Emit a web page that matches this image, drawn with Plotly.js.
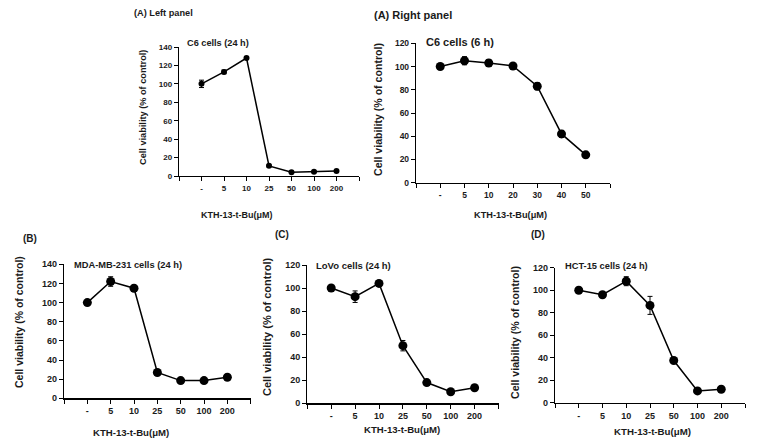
<!DOCTYPE html>
<html>
<head>
<meta charset="utf-8">
<script src="https://cdn.plot.ly/plotly-3.0.1.min.js"></script>
<style>html,body{margin:0;padding:0;background:#fff;}#chart{width:757px;height:446px;}</style>
</head>
<body>
<div id="chart"></div>
<script>
// ---- data ----
const catsLeft = ["-", "5", "10", "25", "50", "100", "200"];
const valsLeft = [100, 113, 128, 11, 4, 4.5, 5.5];
const errLeft = [4, 2, 1.5, 1, 0.8, 0.8, 1];

const catsRight = ["-", "5", "10", "20", "30", "40", "50"];
const valsRight = [100, 105, 103, 100.5, 83, 42, 24];
const errRight = [1.5, 3.5, 3, 1.5, 3, 3, 1];

const catsB = ["-", "5", "10", "25", "50", "100", "200"];
const valsB = [100, 122, 115, 27, 18.5, 18.5, 22];
const errB = [1, 5, 2, 1.5, 1, 1, 1.5];

const catsC = ["-", "5", "10", "25", "50", "100", "200"];
const valsC = [100, 92.5, 104, 50, 18, 10, 13.5];
const errC = [1, 5, 1.5, 4.5, 1, 1, 1];

const catsD = ["-", "5", "10", "25", "50", "100", "200"];
const valsD = [100, 96, 108, 86.5, 37.5, 10.5, 12];
const errD = [1, 1, 4, 8, 1.5, 1, 1];

const panelLabels = ["(A) Left panel", "(A) Right panel", "(B)", "(C)", "(D)"];
const cellTitles = ["C6 cells (24 h)", "C6 cells (6 h)", "MDA-MB-231 cells (24 h)", "LoVo cells (24 h)", "HCT-15 cells (24 h)"];
const yTitle = "Cell viability (% of control)";
const xTitle = "KTH-13-t-Bu(\u03bcM)";

// ---- layout helpers ----
const W = 757, H = 446;
const fx = x => x / W;
const fy = y => 1 - y / H;
const FONT = "Liberation Sans, Arial, sans-serif";
const TXT = "#1a1a1a";

const panels = [
  {cats: catsLeft, vals: valsLeft, err: errLeft, x0: 179, x1: 359, yTop: 47, yBot: 176, ymax: 140,
   ms: 6, tf: 8, lab: [132, 13, 9.2], ttl: [185, 43, 9.2], yt: [143, 108, 9.2], xt: [237, 215, 9]},
  {cats: catsRight, vals: valsRight, err: errRight, x0: 416, x1: 610, yTop: 43.3, yBot: 182.7, ymax: 120,
   ms: 9, tf: 8.5, lab: [372, 15, 11], ttl: [424, 42, 11], yt: [378, 110, 10.6], xt: [510, 215, 9.2]},
  {cats: catsB, vals: valsB, err: errB, x0: 64, x1: 250.7, yTop: 264.3, yBot: 398.3, ymax: 140,
   ms: 9, tf: 9, lab: [21, 238, 10], ttl: [72, 265, 9.3], yt: [19, 322, 10.5], xt: [131, 432, 9.6]},
  {cats: catsC, vals: valsC, err: errC, x0: 307.3, x1: 498.5, yTop: 265, yBot: 403.3, ymax: 120,
   ms: 9, tf: 9, lab: [273, 235, 10], ttl: [314, 265, 9.5], yt: [267, 327, 11], xt: [402, 429, 9.6]},
  {cats: catsD, vals: valsD, err: errD, x0: 555, x1: 745, yTop: 267.7, yBot: 402.7, ymax: 120,
   ms: 9, tf: 9, lab: [529, 235, 10], ttl: [563, 266, 9.3], yt: [515, 333, 10.6], xt: [652, 431, 9.7]}
];

const data = [];
const layout = {
  width: W, height: H,
  margin: {l: 0, r: 0, t: 0, b: 0},
  paper_bgcolor: "#fff", plot_bgcolor: "rgba(0,0,0,0)",
  showlegend: false,
  font: {family: FONT, color: TXT},
  annotations: []
};

panels.forEach((p, i) => {
  const n = i === 0 ? "" : String(i + 1);
  const idx = p.cats.map((c, k) => k);
  data.push({
    type: "scatter", mode: "lines+markers",
    x: idx, y: p.vals,
    xaxis: "x" + n, yaxis: "y" + n,
    line: {color: "#000", width: 1.5},
    marker: {color: "#000", size: p.ms},
    error_y: {type: "data", array: p.err, visible: true, color: "#000", thickness: 1, width: 2.5},
    cliponaxis: false,
    hoverinfo: "skip"
  });
  layout["xaxis" + n] = {
    domain: [fx(p.x0), fx(p.x1)],
    anchor: "y" + n,
    range: [-1, p.cats.length],
    tickmode: "array",
    tickvals: [-1].concat(idx, [p.cats.length]),
    ticktext: [""].concat(p.cats, [""]),
    ticks: "outside", ticklen: 4, tickwidth: 1, tickcolor: "#000",
    showline: true, linecolor: "#000", linewidth: 1.2,
    showgrid: false, zeroline: false, fixedrange: true,
    tickfont: {family: FONT, size: p.tf, color: TXT, weight: "bold"}
  };
  layout["yaxis" + n] = {
    domain: [fy(p.yBot), fy(p.yTop)],
    anchor: "x" + n,
    range: [0, p.ymax],
    tickmode: "linear", tick0: 0, dtick: 20,
    ticks: "outside", ticklen: 4, tickwidth: 1, tickcolor: "#000",
    showline: true, linecolor: "#000", linewidth: 1.2,
    showgrid: false, zeroline: false, fixedrange: true,
    tickfont: {family: FONT, size: p.tf, color: TXT, weight: "bold"}
  };
  const ann = (text, x, y, size, opts) => Object.assign({
    text: text, xref: "paper", yref: "paper", x: fx(x), y: fy(y),
    showarrow: false, xanchor: "left", yanchor: "middle",
    font: {family: FONT, size: size, color: TXT, weight: "bold"}
  }, opts || {});
  layout.annotations.push(ann(panelLabels[i], p.lab[0], p.lab[1], p.lab[2]));
  layout.annotations.push(ann(cellTitles[i], p.ttl[0], p.ttl[1], p.ttl[2]));
  layout.annotations.push(ann(yTitle, p.yt[0], p.yt[1], p.yt[2], {xanchor: "center", textangle: -90}));
  layout.annotations.push(ann(xTitle, p.xt[0], p.xt[1], p.xt[2], {xanchor: "center"}));
});

Plotly.newPlot("chart", data, layout, {staticPlot: true, displayModeBar: false});
</script>
</body>
</html>
